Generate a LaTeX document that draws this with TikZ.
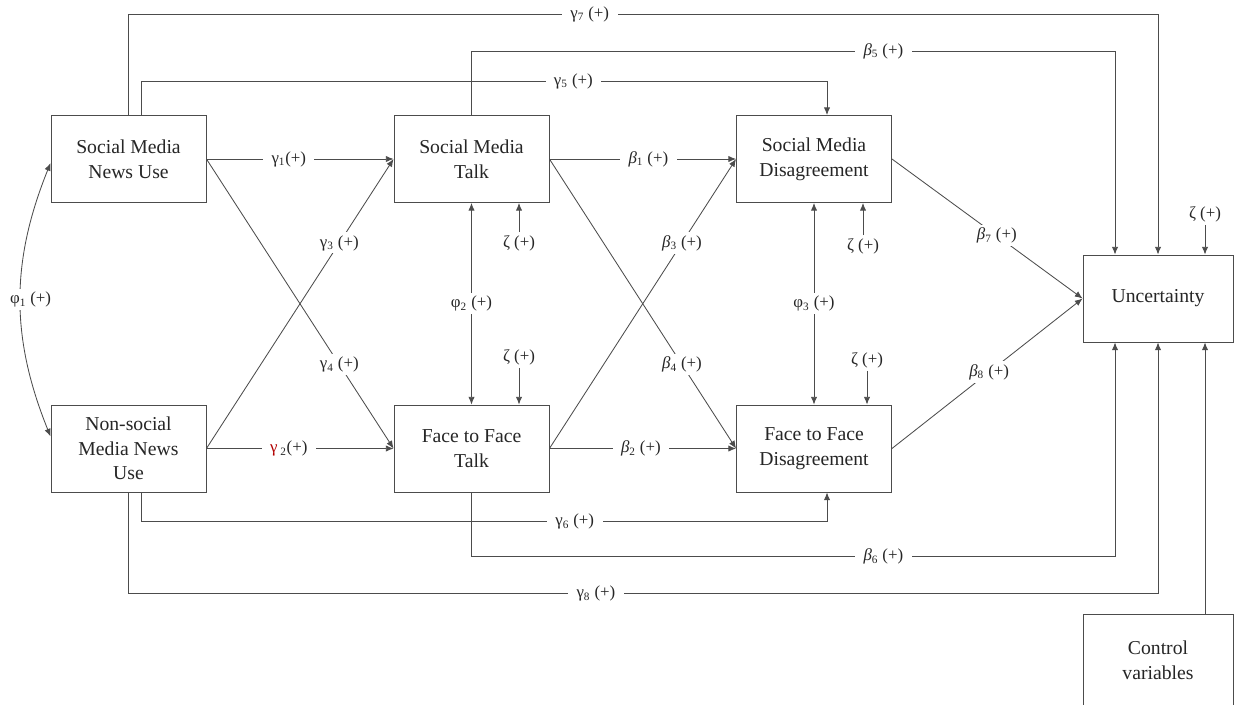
\documentclass[tikz,border=0pt]{standalone}
\usepackage{fontspec}
\setmainfont{Liberation Serif}
\usetikzlibrary{arrows.meta, calc, positioning}

\begin{document}
\begin{tikzpicture}[
    x=0.025cm, y=-0.025cm,
    >={Latex[length=5.5pt,width=4.5pt]},
    varbox/.style={draw=black!70, line width=0.6pt, fill=white, minimum width=3.875cm, minimum height=2.175cm, align=center, text=black!85, font=\fontsize{14}{17.5}\selectfont},
    coef/.style={fill=white, inner xsep=6pt, inner ysep=2pt, text=black!85, font=\fontsize{12}{14}\selectfont},
    link/.style={draw=black!70, line width=0.6pt}
]
\useasboundingbox (0,0) rectangle (1235,704);

\node[varbox] (SMNU) at (128.5,159) {Social Media\\News Use};
\node[varbox] (NSMNU) at (128.5,448.5) {Non-social\\Media News\\Use};
\node[varbox] (SMT) at (471.5,159) {Social Media\\Talk};
\node[varbox] (FFT) at (471.5,448.5) {Face to Face\\Talk};
\node[varbox] (SMD) at (814,159) {Social Media\\Disagreement};
\node[varbox] (FFD) at (814,448.5) {Face to Face\\Disagreement};
\node[varbox, minimum width=3.75cm] (Unc) at (1158,298.5) {Uncertainty};
\node[varbox, minimum width=3.75cm, minimum height=2.3cm] (Ctrl) at (1158,660) {Control\\variables};

\draw[link,<->] ($(SMNU.west)+(0,4)$) to[bend right=22] node[coef, xshift=0.25cm] {φ\textsubscript{1} (+)} ($(NSMNU.west)+(0,-12)$);
\draw[link,<->] (SMT.south) -- node[coef] {φ\textsubscript{2} (+)} (FFT.north);
\draw[link,<->] (SMD.south) -- node[coef] {φ\textsubscript{3} (+)} (FFD.north);

\draw[link,->] (SMNU.east) -- node[coef,pos=0.44] {γ\textsubscript{1}(+)} (SMT.west);
\draw[link,->] (NSMNU.east) -- node[coef,pos=0.44] {\textcolor{red!70!black}{γ}\,\textsubscript{2}(+)} (FFT.west);
\draw[link,->] (NSMNU.east) -- node[coef,pos=0.71] {γ\textsubscript{3} (+)} (SMT.west);
\draw[link,->] (SMNU.east) -- node[coef,pos=0.71] {γ\textsubscript{4} (+)} (FFT.west);
\draw[link,->] (SMT.east) -- node[coef,pos=0.53] {\textit{β}\textsubscript{1} (+)} (SMD.west);
\draw[link,->] (FFT.east) -- node[coef,pos=0.49] {\textit{β}\textsubscript{2} (+)} (FFD.west);
\draw[link,->] (FFT.east) -- node[coef,pos=0.71] {\textit{β}\textsubscript{3} (+)} (SMD.west);
\draw[link,->] (SMT.east) -- node[coef,pos=0.71] {\textit{β}\textsubscript{4} (+)} (FFD.west);
\draw[link,->] (SMD.east) -- node[coef,pos=0.55] {\textit{β}\textsubscript{7} (+)} (Unc.west);
\draw[link,->] (FFD.east) -- node[coef,pos=0.51] {\textit{β}\textsubscript{8} (+)} (Unc.west);

\draw[link,->] (SMNU.north) -- ++(0,-101) -| node[coef,pos=0.224] {γ\textsubscript{7} (+)} (Unc.north);
\draw[link,->] ($(SMNU.north)+(13,0)$) -- ++(0,-34) -| node[coef,pos=0.315] {γ\textsubscript{5} (+)} ($(SMD.north)+(13,0)$);
\draw[link,->] (SMT.north) -- ++(0,-64) -| node[coef,pos=0.32] {\textit{β}\textsubscript{5} (+)} ($(Unc.north)+(-43,0)$);
\draw[link,->] ($(NSMNU.south)+(13,0)$) -- ++(0,29) -| node[coef,pos=0.316] {γ\textsubscript{6} (+)} ($(FFD.south)+(13,0)$);
\draw[link,->] (FFT.south) -- ++(0,64) -| node[coef,pos=0.32] {\textit{β}\textsubscript{6} (+)} ($(Unc.south)+(-43,0)$);
\draw[link,->] (NSMNU.south) -- ++(0,101) -| node[coef,pos=0.227] {γ\textsubscript{8} (+)} (Unc.south);
\draw[link,->] ($(Ctrl.north)+(47,0)$) -- ($(Unc.south)+(47,0)$);

\node[coef] (zSMT) at (519,243) {ζ (+)};
\node[coef] (zFFT) at (519,357) {ζ (+)};
\node[coef] (zSMD) at (863,246) {ζ (+)};
\node[coef] (zFFD) at (867,360) {ζ (+)};
\node[coef] (zUnc) at (1205,214) {ζ (+)};
\draw[link,->] (zSMT.north) -- (zSMT.north |- SMT.south);
\draw[link,->] (zFFT.south) -- (zFFT.south |- FFT.north);
\draw[link,->] (zSMD.north) -- (zSMD.north |- SMD.south);
\draw[link,->] (zFFD.south) -- (zFFD.south |- FFD.north);
\draw[link,->] (zUnc.south) -- (zUnc.south |- Unc.north);
\end{tikzpicture}
\end{document}
